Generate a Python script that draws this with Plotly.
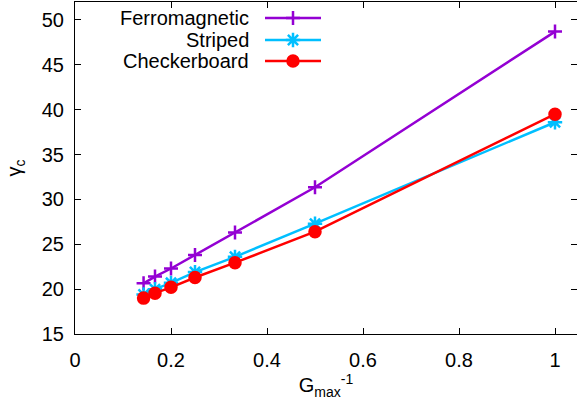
import plotly.graph_objects as go

# Inverse maximum size G_max^-1 (G_max = 7, 6, 5, 4, 3, 2, 1)
inv_gmax = [1/7, 1/6, 1/5, 1/4, 1/3, 1/2, 1.0]

# Critical coupling gamma_c for each ordered phase
ferromagnetic = [20.65, 21.4, 22.3, 23.8, 26.3, 31.35, 48.7]
striped = [19.4, 20.0, 20.7, 21.9, 23.6, 27.3, 38.6]
checkerboard = [19.0, 19.55, 20.2, 21.3, 22.95, 26.4, 39.5]

series_names = ["Ferromagnetic", "Striped", "Checkerboard"]
series_values = [ferromagnetic, striped, checkerboard]
colors = ["#9400D3", "#00BFFF", "#FF0000"]
symbols = ["cross-thin", "asterisk-open", "circle"]
sizes = [10, 12, 11]

x_ticks = [0, 0.2, 0.4, 0.6, 0.8, 1]
x_tick_text = ["0", "0.2", "0.4", "0.6", "0.8", "1"]
y_ticks = [15, 20, 25, 30, 35, 40, 45, 50]

FONT = "Liberation Sans, Arial, Helvetica, sans-serif"
W, H = 577, 407
ML, MR, MT, MB = 75, 0, 2, 73

fig = go.Figure()

for name, vals, col, sym, sz in zip(series_names, series_values, colors, symbols, sizes):
    fig.add_trace(go.Scatter(
        x=inv_gmax, y=vals, mode="lines+markers", name=name,
        line=dict(color=col, width=2.5),
        marker=dict(symbol=sym, size=sz, color=col, line=dict(color=col, width=2.5)),
        showlegend=False,
    ))

# Key in the top-left corner: label on the left, line sample on the right
plot_w = W - ML - MR
plot_h = H - MT - MB
def px_x(p):
    return (p - ML) / plot_w
def px_y(p):
    return (H - MB - p) / plot_h

key_rows = [18, 40, 61]
for name, col, sym, sz, row in zip(series_names, colors, symbols, sizes, key_rows):
    fig.add_annotation(
        x=px_x(251), y=px_y(row), xref="paper", yref="paper",
        text=name, showarrow=False, xanchor="right", yanchor="middle",
        font=dict(family=FONT, size=20, color="black"),
    )
    fig.add_trace(go.Scatter(
        x=[px_x(265), px_x(321)], y=[px_y(row)] * 2, mode="lines",
        line=dict(color=col, width=2.5), xaxis="x2", yaxis="y2",
        showlegend=False, hoverinfo="skip",
    ))
    fig.add_trace(go.Scatter(
        x=[px_x(293)], y=[px_y(row)], mode="markers",
        marker=dict(symbol=sym, size=sz, color=col, line=dict(color=col, width=2.5)),
        xaxis="x2", yaxis="y2", showlegend=False, hoverinfo="skip",
    ))

axis_common = dict(
    showgrid=False, zeroline=False, showline=True, linecolor="black", linewidth=1,
    ticks="inside", ticklen=6, tickcolor="black", mirror="ticks",
    tickfont=dict(family=FONT, size=20, color="black"),
)

fig.update_layout(
    width=W, height=H,
    margin=dict(l=ML, r=MR, t=MT, b=MB),
    paper_bgcolor="white", plot_bgcolor="white",
    font=dict(family=FONT, size=20, color="black"),
    xaxis=dict(
        range=[0, plot_w / 480], tickvals=x_ticks, ticktext=x_tick_text,
        ticklabelstandoff=8,
        title=dict(text="G<sub>max</sub><sup>-1</sup>", font=dict(family=FONT, size=20), standoff=4),
        **axis_common,
    ),
    yaxis=dict(
        range=[15, 52], tickvals=y_ticks, ticklabelstandoff=6,
        title=dict(text="γ<sub>c</sub>", font=dict(family=FONT, size=20), standoff=14),
        **axis_common,
    ),
    xaxis2=dict(range=[0, 1], overlaying="x", visible=False),
    yaxis2=dict(range=[0, 1], overlaying="y", visible=False),
    showlegend=False,
)

fig.write_html("out.html")
